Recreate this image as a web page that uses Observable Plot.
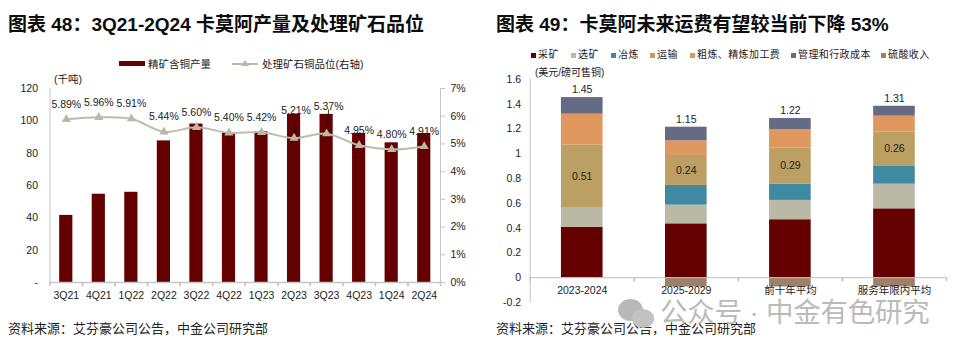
<!DOCTYPE html>
<html><head><meta charset="utf-8">
<script src="https://cdn.jsdelivr.net/npm/d3@7"></script>
<script src="https://cdn.jsdelivr.net/npm/@observablehq/plot@0.6"></script>
<style>
html,body{margin:0;padding:0;background:#fff;width:958px;height:352px;overflow:hidden}
body{font-family:"Liberation Sans","Noto Sans CJK SC",sans-serif;color:#111;position:relative}
.abs{position:absolute;white-space:nowrap;line-height:1}
.title{font-weight:700;font-size:19px;top:15px;color:#0d0d0d}
.source{font-size:13px;top:322px;color:#222}
.leg{font-size:10.5px;color:#222}
.unit{font-size:10.5px;color:#222}
.sq{position:absolute;width:5px;height:5px;top:53px}
</style></head><body>
<div id="app"></div>
<script>
const quarters = ["3Q21","4Q21","1Q22","2Q22","3Q22","4Q22","1Q23","2Q23","3Q23","4Q23","1Q24","2Q24"];
const output = [41.5,54.6,55.8,87.6,98,92.6,93.2,104,104,92.2,86.4,92.2];
const grade = [5.89,5.96,5.91,5.44,5.60,5.40,5.42,5.21,5.37,4.95,4.80,4.91];
const raisedLabels = ["2Q23","3Q23"];

const periods = ["2023-2024","2025-2029","前十年平均","服务年限内平均"];
const seriesNames = ["采矿","选矿","冶炼","运输","粗炼、精炼加工费","管理和行政成本","硫酸收入"];
const seriesColors = ["#640000","#b9b9a5","#3f8aa3","#bc9f62","#e0965f","#666b85","#9c8068"];
const mining = [0.406,0.435,0.468,0.556];
const dressing = [0.161,0.151,0.156,0.199];
const smelting = [0,0.159,0.132,0.148];
const transport = [0.505,0.242,0.290,0.272];
const refining = [0.248,0.118,0.148,0.129];
const admin = [0.134,0.110,0.091,0.080];
const acid = [0,-0.075,-0.075,-0.075];
const totals = ["1.45","1.15","1.22","1.31"];
const transportLabels = ["0.51","0.24","0.29","0.26"];

const FONT = '"Liberation Sans","Noto Sans CJK SC",sans-serif';
const AXIS = "#c6c6c6", TEXT = "#222";
const app = document.getElementById("app");
const tickShape = {draw(c, l){ c.moveTo(0,0); c.lineTo(0,-l); }};
function add(cls, left, text, css){
  const d = document.createElement("div");
  d.className = "abs " + cls; d.style.left = left + "px"; d.textContent = text;
  if (css) d.style.cssText += css;
  app.appendChild(d); return d;
}

/* ---------- left chart ---------- */
const gradeToY = d3.scaleLinear([0,7],[0,120]);
const rows = quarters.map((q,i)=>({q, output:output[i], grade:grade[i], y2:gradeToY(grade[i])}));
const halfStepL = 16.28;
const left = Plot.plot({
  width:479, height:260, marginTop:28, marginBottom:38, marginLeft:49.5, marginRight:39,
  style:{fontFamily:FONT,fontSize:"10.5px",color:TEXT,background:"transparent",position:"absolute",top:"60px",left:"0px"},
  x:{domain:quarters, paddingInner:0.595, paddingOuter:0.2975, round:false, label:null},
  y:{domain:[0,120], label:null},
  marks:[
    Plot.barY(rows,{x:"q",y:"output",fill:"#640000"}),
    Plot.frame({anchor:"left",stroke:AXIS}),
    Plot.frame({anchor:"right",stroke:AXIS}),
    Plot.ruleY([0],{stroke:AXIS,strokeWidth:1.5}),
    Plot.vector(quarters,{x:d=>d,y:()=>0,dx:-halfStepL,length:3,rotate:180,anchor:"start",shape:tickShape,stroke:AXIS}),
    Plot.vector(quarters,{x:d=>d,y:()=>0,dx:halfStepL,length:3,rotate:180,anchor:"start",shape:tickShape,stroke:AXIS}),
    Plot.axisX({tickSize:0,tickPadding:9,label:null}),
    Plot.axisY({ticks:d3.range(0,121,20),tickSize:0,tickPadding:12,label:null,tickFormat:d=>d===0?"-":d}),
    Plot.axisY({anchor:"right",ticks:d3.range(0,8).map(gradeToY),tickSize:4,tickPadding:6,stroke:AXIS,label:null,
      tickFormat:d=>Math.round(gradeToY.invert(d))+"%",color:TEXT}),
    Plot.line(rows,{x:"q",y:"y2",stroke:"#bcbcab",strokeWidth:2,curve:"catmull-rom"}),
    Plot.vector(rows.filter(d=>raisedLabels.includes(d.q)),{x:"q",y:"y2",length:24,rotate:5,anchor:"start",shape:tickShape,stroke:"#111",strokeWidth:0.8}),
    Plot.dot(rows,{x:"q",y:"y2",symbol:"triangle",r:3.4,fill:"#b9b9a5"}),
    Plot.text(rows.filter(d=>!raisedLabels.includes(d.q)),{x:"q",y:"y2",dy:-15,text:d=>d.grade.toFixed(2)+"%",fontSize:10.5,fill:TEXT}),
    Plot.text(rows.filter(d=>raisedLabels.includes(d.q)),{x:"q",y:"y2",dy:-27.5,dx:2,text:d=>d.grade.toFixed(2)+"%",fontSize:10.5,fill:TEXT})
  ]
});
app.appendChild(left);

/* ---------- right chart ---------- */
const seriesValues = [mining,dressing,smelting,transport,refining,admin,acid];
const stacked = seriesNames.flatMap((s,k)=>periods.map((p,i)=>({period:p,series:s,value:seriesValues[k][i],label:k===3?transportLabels[i]:null})));
const tops = periods.map((p,i)=>({period:p,label:totals[i],top:d3.sum(seriesValues.slice(0,6),v=>v[i])}));
const halfStepR = 52.07;
const right = Plot.plot({
  width:479, height:260, marginTop:19, marginBottom:18, marginLeft:50.7, marginRight:12,
  style:{fontFamily:FONT,fontSize:"10.5px",color:TEXT,background:"transparent",position:"absolute",top:"60px",left:"479px"},
  x:{domain:periods, paddingInner:0.6, paddingOuter:0.3, round:false, label:null, axis:null},
  y:{domain:[-0.2,1.6], label:null},
  color:{domain:seriesNames, range:seriesColors},
  marks:[
    Plot.barY(stacked,{x:"period",y:"value",fill:"series",order:seriesNames}),
    Plot.frame({anchor:"left",stroke:AXIS}),
    Plot.ruleY([0],{stroke:"#bdbdbd"}),
    Plot.vector(periods,{x:d=>d,y:()=>0,dx:-halfStepR,length:3,rotate:180,anchor:"start",shape:tickShape,stroke:AXIS}),
    Plot.vector(periods,{x:d=>d,y:()=>0,dx:halfStepR,length:3,rotate:180,anchor:"start",shape:tickShape,stroke:AXIS}),
    Plot.axisY({ticks:d3.range(-0.2,1.61,0.2),tickSize:0,tickPadding:9,label:null,tickFormat:d=>+d.toFixed(1)}),
    Plot.text(periods,{x:d=>d,y:()=>0,dy:13,text:d=>d,fontSize:10.5,fill:TEXT}),
    Plot.text(stacked,Plot.stackY({x:"period",y:"value",z:"series",order:seriesNames,text:"label",fontSize:10.5,fill:TEXT})),
    Plot.text(tops,{x:"period",y:"top",dy:-8,text:"label",fontSize:10.5,fill:TEXT})
  ]
});
app.appendChild(right);

/* ---------- titles, captions, legends ---------- */
add("title",8,"图表 48：3Q21-2Q24 卡莫阿产量及处理矿石品位");
add("title",496,"图表 49：卡莫阿未来运费有望较当前下降 53%");
add("source",8,"资料来源：艾芬豪公司公告，中金公司研究部");
add("source",496,"资料来源：艾芬豪公司公告，中金公司研究部");
add("unit",54,"(千吨)","top:74px;");
add("unit",535,"(美元/磅可售铜)","top:68px;font-size:10px;");

const bar = document.createElement("div");
bar.style.cssText="position:absolute;left:119px;top:61px;width:26px;height:5px;background:#640000";
app.appendChild(bar);
add("leg",148,"精矿含铜产量","top:59px;");
const lineKey = document.createElement("div");
lineKey.style.cssText="position:absolute;left:232px;top:63px;width:26px;height:2px;background:#bcbcab";
app.appendChild(lineKey);
const tri = document.createElement("div");
tri.style.cssText="position:absolute;left:241px;top:60px;width:0;height:0;border-left:4px solid transparent;border-right:4px solid transparent;border-bottom:6px solid #b9b9a5";
app.appendChild(tri);
add("leg",262,"处理矿石铜品位(右轴)","top:59px;");

const legX = [531,571,611,650,690,791,881];
seriesNames.forEach((s,i)=>{
  const q = document.createElement("div");
  q.className="sq"; q.style.left=legX[i]+"px"; q.style.background=seriesColors[i];
  app.appendChild(q);
  add("leg",legX[i]+7,s,"top:50px;font-size:10px;letter-spacing:0.4px;");
});

/* ---------- watermark ---------- */
function blob(l,t,w,h,c){
  const b=document.createElement("div");
  b.style.cssText=`position:absolute;left:${l}px;top:${t}px;width:${w}px;height:${h}px;border-radius:50%;background:${c}`;
  app.appendChild(b);
}
blob(618,299,25,22,"#b9b9b9");
blob(632,309,22,19,"#c2c2c2");
add("wm",660,"公众号 · 中金有色研究","top:299px;font-size:27.4px;color:#bababa;letter-spacing:-0.1px;");
</script>
</body></html>
